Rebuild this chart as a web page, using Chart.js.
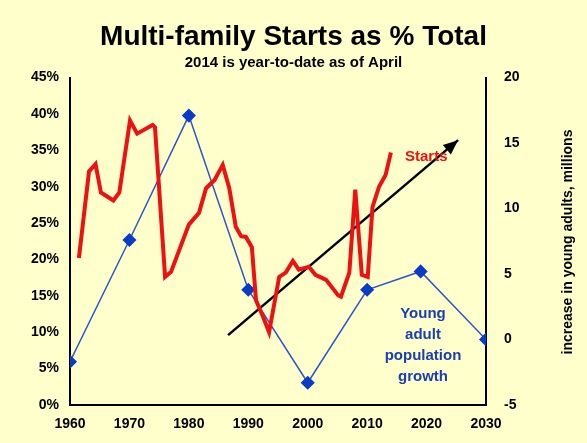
<!DOCTYPE html>
<html><head><meta charset="utf-8">
<script src="https://cdn.jsdelivr.net/npm/chart.js@4"></script>
<style>html,body{margin:0;background:#ffffcc}#w{width:587px;height:443px}</style>
</head><body><div id="w"><canvas id="c"></canvas></div>
<script>
const startsYears = [1961.5,1963.2,1964.3,1965.2,1967.3,1968.3,1970.1,1971.3,1973.9,1974.3,1976,1977,1980,1981.7,1982.9,1984.3,1985.7,1986.8,1987.9,1988.8,1989.6,1990.6,1991.3,1992.5,1993.5,1995.2,1996.3,1997.5,1998.5,2000.2,2001.3,2003.1,2005.1,2005.6,2007,2008,2009.1,2010.1,2010.9,2012,2013.1,2014];
const startsPct = [20.2,32.1,33.1,29.2,28.1,29.2,39.1,37.3,38.5,38.2,17.6,18.3,24.8,26.4,29.8,30.9,33,29.8,24.5,23.2,23.1,21.7,14.4,12.1,10,17.6,18.2,19.8,18.6,19,17.9,17.2,15.1,14.9,18.2,29.6,17.9,17.6,27.2,30,31.6,34.7];
const popYears = [1960,1970,1980,1990,2000,2010,2019,2030];
const popGrowth = [-1.7,7.6,17.1,3.8,-3.3,3.8,5.2,0];
const trendYears = [1986.6,2025.3];
const trendPct = [9.6,36.4];
const F = 'Arial, "Liberation Sans"';

const ann = {
  id:'ann',
  afterDatasetsDraw(ch){
    const c=ch.ctx,x=ch.scales.x,y=ch.scales.y;
    const x1=x.getPixelForValue(trendYears[0]),y1=y.getPixelForValue(trendPct[0]);
    const x2=x.getPixelForValue(trendYears[1]),y2=y.getPixelForValue(trendPct[1]);
    const a=Math.atan2(y2-y1,x2-x1);
    c.save();c.fillStyle='#000';c.beginPath();
    c.moveTo(x2,y2);
    c.lineTo(x2-16*Math.cos(a-0.4),y2-16*Math.sin(a-0.4));
    c.lineTo(x2-16*Math.cos(a+0.4),y2-16*Math.sin(a+0.4));
    c.fill();
    c.font='bold 15px '+F;c.fillStyle='#ee1111';c.textAlign='left';
    c.fillText('Starts',405,161);
    c.fillStyle='#1a3fb0';c.textAlign='center';
    ['Young','adult','population','growth'].forEach((t,i)=>c.fillText(t,423,318+i*21));
    c.translate(572,242);c.rotate(-Math.PI/2);c.fillStyle='#000';c.font='bold 14px '+F;
    c.fillText('increase in young adults, millions',0,0);
    c.restore();
  }
};

const tickFont={size:14,weight:'bold',family:F};
new Chart(document.getElementById('c'),{
  type:'line',
  data:{datasets:[
    {data:startsYears.map((v,i)=>({x:v,y:startsPct[i]})),borderColor:'#ee1111',borderWidth:4,pointRadius:0,yAxisID:'y',tension:0},
    {data:popYears.map((v,i)=>({x:v,y:popGrowth[i]})),borderColor:'#2f55c8',borderWidth:1.5,pointStyle:'rectRot',pointRadius:6,pointBackgroundColor:'#0a3cc8',pointBorderColor:'#0a3cc8',yAxisID:'y2'},
    {data:trendYears.map((v,i)=>({x:v,y:trendPct[i]})),borderColor:'#000',borderWidth:2.5,pointRadius:0,yAxisID:'y'}
  ]},
  options:{
    responsive:true,maintainAspectRatio:false,animation:false,
    layout:{padding:{left:0,right:0,top:0,bottom:0}},
    plugins:{legend:{display:false},tooltip:{enabled:false},
      title:{display:true,text:'Multi-family Starts as % Total',color:'#000',font:{size:28,weight:'bold',family:F},padding:{top:20,bottom:0}},
      subtitle:{display:true,text:'2014 is year-to-date as of April',color:'#000',font:{size:15,weight:'bold',family:F},padding:{top:0,bottom:6}}},
    scales:{
      x:{type:'linear',min:1960,max:2030,afterFit:s=>{s.height=38},ticks:{stepSize:10,callback:v=>String(v),color:'#000',font:tickFont},grid:{display:false},border:{color:'#000',width:2}},
      y:{min:0,max:45,afterFit:s=>{s.width=70},ticks:{stepSize:5,callback:v=>v+'%',color:'#000',font:tickFont},grid:{display:false},border:{color:'#000',width:2}},
      y2:{position:'right',min:-5,max:20,afterFit:s=>{s.width=101},ticks:{stepSize:5,color:'#000',font:tickFont,padding:10},grid:{display:false},border:{color:'#000',width:2}}
    }
  },
  plugins:[ann]
});
</script></body></html>
